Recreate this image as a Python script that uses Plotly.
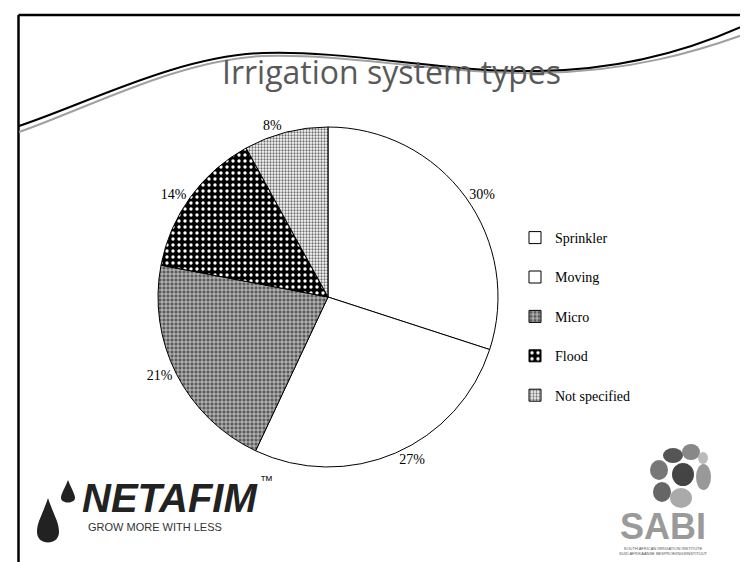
import plotly.graph_objects as go

W, H = 748, 562

labels = ["Sprinkler", "Moving", "Micro", "Flood", "Not specified"]
values = [30, 27, 21, 14, 8]
title_text = "Irrigation system types"

def px(x, y):
    return x / W, 1 - y / H

def path(cmds):
    out = []
    for c in cmds:
        if isinstance(c, str):
            out.append(c)
        else:
            a, b = px(*c)
            out.append(f"{a:.5f},{b:.5f}")
    return " ".join(out)

bg = ["white", "white", "#5a5a5a", "black", "white"]
fg = ["white", "white", "#e0e0e0", "white", "#707070"]
shapes_pat = ["", "", "+", ".", "."]
sizes = [6, 6, 4, 6, 3]
solid = [0.3, 0.3, 0.35, 0.25, 0.45]

fig = go.Figure()
fig.add_trace(go.Pie(
    labels=[l + "<br> " for l in labels],
    values=values,
    sort=False,
    direction="clockwise",
    rotation=0,
    textposition="outside",
    texttemplate="%{percent:.0%}",
    textfont=dict(family="Liberation Serif", size=14, color="black"),
    marker=dict(
        colors=bg,
        line=dict(color="black", width=1),
        pattern=dict(shape=shapes_pat, bgcolor=bg, fgcolor=fg, size=sizes, solidity=solid),
    ),
    domain=dict(x=[143 / W, 497 / W], y=[1 - 459 / H, 1 - 119 / H]),
    hoverinfo="label+percent",
))

shapes = []
# slide frame (top and left)
shapes.append(dict(type="line", xref="paper", yref="paper",
                   x0=10.5 / W, y0=1 - 7 / H, x1=1.01, y1=1 - 7 / H,
                   line=dict(color="black", width=2.5)))
shapes.append(dict(type="line", xref="paper", yref="paper",
                   x0=10.5 / W, y0=1 - 7 / H, x1=10.5 / W, y1=-0.01,
                   line=dict(color="black", width=2.5)))
# wavy decoration
shapes.append(dict(type="path", xref="paper", yref="paper",
                   path=path(["M", (11, 124), "C", (80, 100), (170, 52), (255, 48),
                              "C", (340, 45), (440, 67), (530, 65),
                              "C", (620, 64), (690, 44), (748, 22)]),
                   line=dict(color="#a0a0a0", width=2)))
shapes.append(dict(type="path", xref="paper", yref="paper",
                   path=path(["M", (11, 118), "C", (80, 95), (170, 48), (255, 45),
                              "C", (340, 42), (440, 65), (530, 63),
                              "C", (620, 62), (690, 40), (748, 12)]),
                   line=dict(color="black", width=2)))
# Netafim drops
shapes.append(dict(type="path", xref="paper", yref="paper",
                   path=path(["M", (60, 472), "C", (56, 482), (53, 486), (53, 490),
                              "C", (53, 496), (67, 496), (67, 490), "C", (67, 486), (64, 482), (60, 472), "Z"]),
                   fillcolor="#222", line=dict(width=0)))
shapes.append(dict(type="path", xref="paper", yref="paper",
                   path=path(["M", (40, 490), "C", (34, 508), (29, 514), (29, 524),
                              "C", (29, 538), (51, 538), (51, 524), "C", (51, 514), (46, 508), (40, 490), "Z"]),
                   fillcolor="#222", line=dict(width=0)))
# SABI leaves (approximate)
leaf_specs = [
    ((655, 440), (675, 455), "#555"), ((674, 436), (692, 452), "#888"),
    ((642, 452), (660, 472), "#777"), ((664, 455), (686, 478), "#444"),
    ((688, 456), (703, 482), "#999"), ((645, 474), (663, 494), "#666"),
    ((662, 480), (684, 500), "#aaa"), ((690, 444), (700, 456), "#bbb"),
]
for (a, b, c) in leaf_specs:
    x0, y0 = px(*a)
    x1, y1 = px(*b)
    shapes.append(dict(type="circle", xref="paper", yref="paper",
                       x0=x0, y0=y1, x1=x1, y1=y0, fillcolor=c, line=dict(width=0)))

annotations = [
    dict(text=title_text, x=383 / W, y=1 - 63 / H, xref="paper", yref="paper",
         showarrow=False, xanchor="center", yanchor="middle",
         font=dict(family="Open Sans", size=32, color="#595959")),
    dict(text="<b><i>NETAFIM</i></b>", x=72 / W, y=1 - 490 / H, xref="paper", yref="paper",
         showarrow=False, xanchor="left", yanchor="middle",
         font=dict(family="Liberation Sans", size=40, color="#222")),
    dict(text="™", x=250 / W, y=1 - 472 / H, xref="paper", yref="paper",
         showarrow=False, xanchor="left", yanchor="middle",
         font=dict(family="Liberation Sans", size=13, color="#222")),
    dict(text="GROW MORE WITH LESS", x=78 / W, y=1 - 519 / H, xref="paper", yref="paper",
         showarrow=False, xanchor="left", yanchor="middle",
         font=dict(family="Liberation Sans Narrow, Liberation Sans", size=11, color="#333")),
    dict(text="<b>SABI</b>", x=655 / W, y=1 - 518 / H, xref="paper", yref="paper",
         showarrow=False, xanchor="center", yanchor="middle",
         font=dict(family="Liberation Sans", size=36, color="#9a9a9a")),
    dict(text="SOUTH AFRICAN IRRIGATION INSTITUTE<br>SUID AFRIKAANSE BESPROEIINGSINSTITUUT",
         x=655 / W, y=1 - 543 / H, xref="paper", yref="paper",
         showarrow=False, xanchor="center", yanchor="middle",
         font=dict(family="Liberation Sans", size=4, color="#555")),
]

fig.update_layout(
    width=W, height=H,
    margin=dict(l=0, r=0, t=0, b=0),
    paper_bgcolor="white",
    plot_bgcolor="white",
    showlegend=True,
    legend=dict(x=507 / W, y=1 - 214 / H, xanchor="left", yanchor="top",
                font=dict(family="Liberation Serif", size=14, color="black"),
                valign="top", itemwidth=30, bgcolor="rgba(0,0,0,0)"),
    shapes=shapes,
    annotations=annotations,
)

fig.write_html("out.html")
